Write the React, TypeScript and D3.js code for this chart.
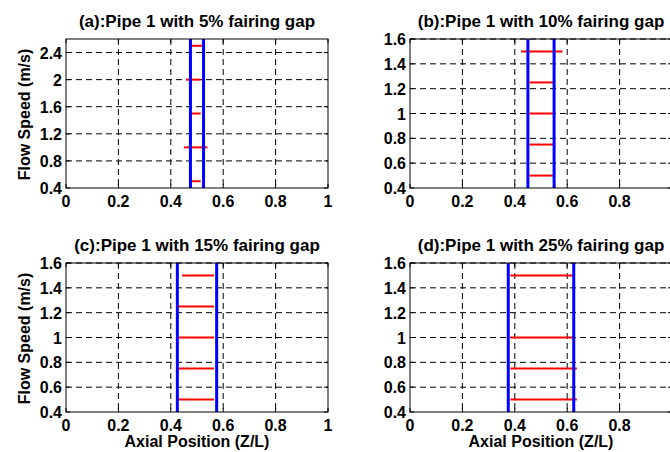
import React from "react";
import * as d3 from "d3";

const panelTitles = [
  "(a):Pipe 1 with 5% fairing gap",
  "(b):Pipe 1 with 10% fairing gap",
  "(c):Pipe 1 with 15% fairing gap",
  "(d):Pipe 1 with 25% fairing gap",
];
const yDomains: [number, number][] = [[0.4, 2.6], [0.4, 1.6], [0.4, 1.6], [0.4, 1.6]];
const yTickSets = [
  [0.4, 0.8, 1.2, 1.6, 2.0, 2.4],
  [0.4, 0.6, 0.8, 1.0, 1.2, 1.4, 1.6],
  [0.4, 0.6, 0.8, 1.0, 1.2, 1.4, 1.6],
  [0.4, 0.6, 0.8, 1.0, 1.2, 1.4, 1.6],
];
const xTicks = [0, 0.2, 0.4, 0.6, 0.8, 1];
// fairing gap edges (blue lines)
const gapLeft = [0.475, 0.45, 0.425, 0.375];
const gapRight = [0.525, 0.55, 0.575, 0.625];
// red segments: speed, start, end
const redSpeeds = [
  [2.5, 2.0, 1.5, 1.0, 0.5],
  [1.5, 1.25, 1.0, 0.75, 0.5],
  [1.5, 1.25, 1.0, 0.75, 0.5],
  [1.5, 1.0, 0.75, 0.5],
];
const redStart = [
  [0.477, 0.458, 0.473, 0.45, 0.473],
  [0.424, 0.456, 0.456, 0.456, 0.456],
  [0.443, 0.425, 0.425, 0.425, 0.425],
  [0.383, 0.383, 0.383, 0.383],
];
const redEnd = [
  [0.53, 0.514, 0.514, 0.54, 0.514],
  [0.582, 0.549, 0.549, 0.549, 0.549],
  [0.565, 0.565, 0.565, 0.565, 0.565],
  [0.623, 0.623, 0.637, 0.637],
];

const lefts = [66, 410, 66, 410];
const tops = [39, 39, 263, 263];
const W = 262;
const H = 149;
const SVG_W = 670;
const FONT = "Arial, 'Liberation Sans', Helvetica, sans-serif";
const FS = 16;
const TITLE_FS = 17;

function fmt(v: number) {
  return d3.format("~g")(+v.toFixed(2));
}

function Panel({ i }: { i: number }) {
  const x = d3.scaleLinear().domain([0, 1]).range([0, W]);
  const y = d3.scaleLinear().domain(yDomains[i]).range([H, 0]);
  const yt = yTickSets[i];
  return (
    <g transform={`translate(${lefts[i]},${tops[i]})`}>
      <rect x={0} y={0} width={W} height={H} fill="white" />
      {xTicks.slice(1, -1).map((t) => (
        <line key={"gx" + t} x1={x(t)} x2={x(t)} y1={0} y2={H} stroke="#000" strokeWidth={1} strokeDasharray="6,4" />
      ))}
      {yt.slice(1).map((t) => (
        <line key={"gy" + t} x1={0} x2={W} y1={y(t)} y2={y(t)} stroke="#000" strokeWidth={1} strokeDasharray="6,4" />
      ))}
      {xTicks.map((t) => (
        <g key={"tx" + t}>
          <line x1={x(t)} x2={x(t)} y1={H} y2={H - 4} stroke="#000" />
          <line x1={x(t)} x2={x(t)} y1={0} y2={4} stroke="#000" />
          {lefts[i] + x(t) < SVG_W - 8 && (
            <text x={x(t)} y={H + 19} textAnchor="middle" fontSize={FS} fontWeight="bold" fontFamily={FONT}>
              {fmt(t)}
            </text>
          )}
        </g>
      ))}
      {yt.map((t) => (
        <g key={"ty" + t}>
          <line x1={0} x2={4} y1={y(t)} y2={y(t)} stroke="#000" />
          <line x1={W} x2={W - 4} y1={y(t)} y2={y(t)} stroke="#000" />
          <text x={-4} y={y(t) + 6} textAnchor="end" fontSize={FS} fontWeight="bold" fontFamily={FONT}>
            {fmt(t)}
          </text>
        </g>
      ))}
      {redSpeeds[i].map((s, k) => (
        <line key={"r" + k} x1={x(redStart[i][k])} x2={x(redEnd[i][k])} y1={y(s)} y2={y(s)} stroke="#ff0000" strokeWidth={2} />
      ))}
      <line x1={x(gapLeft[i])} x2={x(gapLeft[i])} y1={0} y2={H} stroke="#0000ff" strokeWidth={3} />
      <line x1={x(gapRight[i])} x2={x(gapRight[i])} y1={0} y2={H} stroke="#0000ff" strokeWidth={3} />
      <rect x={0} y={0} width={W} height={H} fill="none" stroke="#000" strokeWidth={1} />
      <text x={W / 2} y={-12} textAnchor="middle" fontSize={TITLE_FS} fontWeight="bold" fontFamily={FONT}>
        {panelTitles[i]}
      </text>
      {i % 2 === 0 && (
        <text transform={`translate(${-36},${H / 2 + 1}) rotate(-90)`} textAnchor="middle" fontSize={FS} fontWeight="bold" fontFamily={FONT}>
          Flow Speed (m/s)
        </text>
      )}
      {i >= 2 && (
        <text x={W / 2} y={H + 35} textAnchor="middle" fontSize={FS} fontWeight="bold" fontFamily={FONT}>
          Axial Position (Z/L)
        </text>
      )}
    </g>
  );
}

export default function App() {
  return (
    <svg width={670} height={452} style={{ position: "absolute", left: 0, top: 0, background: "white" }}>
      <rect width={670} height={452} fill="white" />
      {[0, 1, 2, 3].map((i) => (
        <Panel key={i} i={i} />
      ))}
    </svg>
  );
}
